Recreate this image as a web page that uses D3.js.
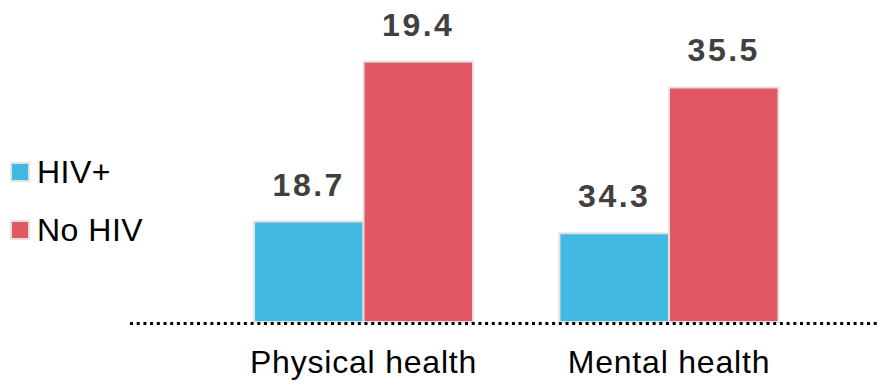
<!DOCTYPE html>
<html><head><meta charset="utf-8">
<script src="https://cdn.jsdelivr.net/npm/d3@7"></script>
<style>
html,body{margin:0;padding:0;background:#fff;}
svg{display:block;font-family:"Liberation Sans",Arial,sans-serif;}
</style></head>
<body>
<svg id="chart" width="880" height="385"></svg>
<script>
const categories = ["Physical health", "Mental health"];
const seriesNames = ["HIV+", "No HIV"];
const hivValues = [18.7, 34.3];
const noHivValues = [19.4, 35.5];
// per-category value range shown (axis does not start at zero)
const yMin = [18.26, 33.57];
const yMax = [19.67, 36.22];
const colors = ["#41b9e2", "#e15862"];

const svg = d3.select("#chart");
const baseY = 322;

const x0 = d3.scaleBand().domain(categories).range([141.6, 890.9])
  .paddingInner(0.283).paddingOuter(0.368);
const x1 = d3.scaleBand().domain(seriesNames).range([0, x0.bandwidth()]).padding(0);
const color = d3.scaleOrdinal().domain(seriesNames).range(colors);
const yScales = categories.map((c, i) => d3.scaleLinear().domain([yMin[i], yMax[i]]).range([baseY, 0]));

const data = categories.map((c, i) => ({
  cat: c, i,
  vals: [{s: seriesNames[0], v: hivValues[i]}, {s: seriesNames[1], v: noHivValues[i]}]
}));

const groups = svg.selectAll("g.grp").data(data).join("g")
  .attr("class", "grp")
  .attr("transform", d => `translate(${x0(d.cat)},0)`);

groups.selectAll("rect").data(d => d.vals.map(v => ({...v, y: yScales[d.i]}))).join("rect")
  .attr("x", d => x1(d.s))
  .attr("width", x1.bandwidth())
  .attr("y", d => d.y(d.v))
  .attr("height", d => baseY - d.y(d.v))
  .attr("fill", d => color(d.s))
  .attr("stroke", "#e2e2e2")
  .attr("stroke-width", 2);

groups.selectAll("text.val").data(d => d.vals.map(v => ({...v, y: yScales[d.i]}))).join("text")
  .attr("class", "val")
  .attr("x", d => x1(d.s) + x1.bandwidth() / 2)
  .attr("y", d => d.y(d.v) - 26)
  .attr("text-anchor", "middle")
  .attr("font-size", 32)
  .attr("font-weight", "bold")
  .attr("letter-spacing", 2.5)
  .attr("fill", "#404040")
  .text(d => d.v.toFixed(1));

// baseline dotted axis
const axis = svg.append("g").attr("transform", `translate(0,${baseY + 1})`)
  .call(d3.axisBottom(x0).tickSize(0).tickPadding(0).tickFormat(""));
axis.select(".domain").remove();
svg.append("line")
  .attr("x1", 130).attr("x2", 880).attr("y1", baseY + 1.5).attr("y2", baseY + 1.5)
  .attr("stroke", "#000").attr("stroke-width", 3).attr("stroke-dasharray", "3,3.7");

// category labels
svg.selectAll("text.cat").data(categories).join("text")
  .attr("class", "cat")
  .attr("x", d => x0(d) + x0.bandwidth() / 2)
  .attr("y", 373)
  .attr("text-anchor", "middle")
  .attr("font-size", 32)
  .attr("letter-spacing", 0.8)
  .attr("fill", "#000")
  .text(d => d);

// legend
const leg = svg.selectAll("g.leg").data(seriesNames).join("g")
  .attr("class", "leg")
  .attr("transform", (d, i) => `translate(11,${163 + i * 58})`);
leg.append("rect").attr("width", 18).attr("height", 18)
  .attr("fill", d => color(d)).attr("stroke", "#e2e2e2").attr("stroke-width", 2);
leg.append("text").attr("x", 26).attr("y", 20)
  .attr("font-size", 32).attr("letter-spacing", 0.5).attr("fill", "#000")
  .text(d => d);
</script>
</body></html>
